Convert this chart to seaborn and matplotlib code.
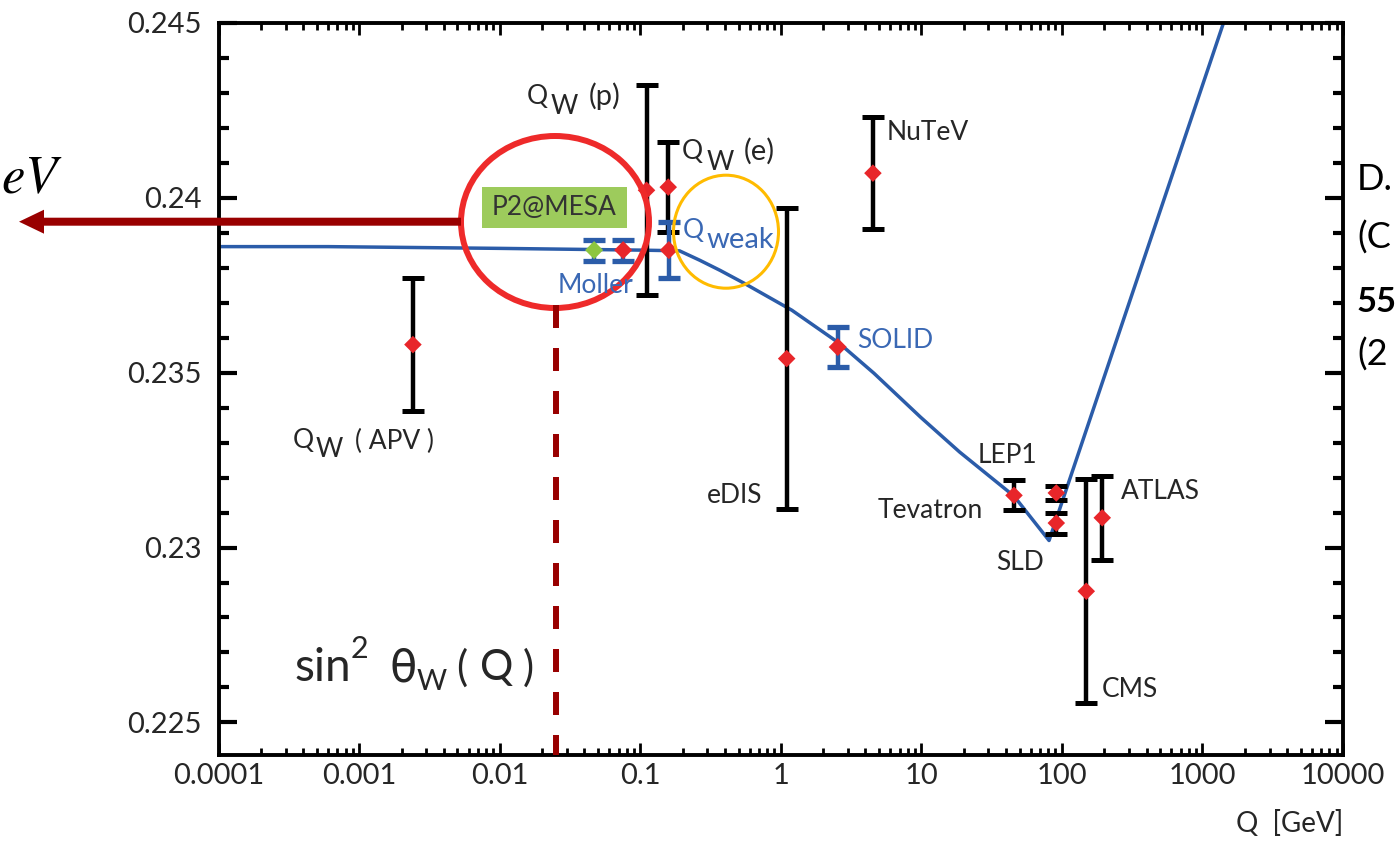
import numpy as np
import pandas as pd
import matplotlib
matplotlib.use("Agg")
import matplotlib.pyplot as plt
import seaborn as sns
from matplotlib.patches import Ellipse, Rectangle, FancyArrow
from matplotlib.lines import Line2D
from matplotlib.transforms import Affine2D
from matplotlib.ticker import FixedLocator, FixedFormatter, MultipleLocator, LogLocator, NullFormatter

# ---------------- data ----------------
# running weak mixing angle (theory curve)
curve_Q = [1e-4, 6e-4, 0.01, 0.1, 0.19, 0.265, 0.37, 0.55, 1.2, 2.6, 4.6, 9.9, 18.7, 45.6, 81, 1413]
curve_s2w = [0.2386, 0.2386, 0.23855, 0.2385, 0.23848, 0.23821, 0.23792, 0.23755, 0.23678,
             0.23584, 0.23498, 0.23372, 0.23273, 0.23147, 0.2302, 0.245]

# existing measurements (black)
exp_names = ["QW(APV)", "QW(p)", "QW(e)", "eDIS", "NuTeV", "LEP1", "Tevatron", "SLD", "CMS", "ATLAS"]
exp_Q = [0.00241, 0.1107, 0.158, 1.10, 4.52, 45.6, 91.2, 91.2, 149, 193.6]
exp_s2w = [0.2358, 0.24021, 0.2403, 0.2354, 0.2407, 0.23149, 0.23156, 0.2307, 0.22875, 0.23085]
exp_err = [0.0019, 0.0030, 0.00128, 0.0043, 0.0016, 0.00043, 0.00021, 0.0003, 0.0032, 0.0012]

# future measurements (blue)
fut_names = ["P2@MESA", "Moller", "Qweak", "SOLID"]
fut_Q = [0.0469, 0.0755, 0.1596, 2.54]
fut_s2w = [0.2385, 0.2385, 0.2385, 0.23573]
fut_err = [0.0003, 0.0003, 0.00079, 0.00057]

x_ticks = [1e-4, 1e-3, 1e-2, 1e-1, 1, 10, 100, 1000, 10000]
x_labels = ["0.0001", "0.001", "0.01", "0.1", "1", "10", "100", "1000", "10000"]
y_ticks = [0.225, 0.23, 0.235, 0.24, 0.245]
y_labels = ["0.225", "0.23", "0.235", "0.24", "0.245"]

# ---------------- style ----------------
W, H = 1397, 842
sns.set_theme(style="white")
plt.rcParams['font.family'] = ['Lato', 'DejaVu Sans']
plt.rcParams['axes.edgecolor'] = 'black'

BLUE = '#2b5ca9'
BLUE_TXT = '#3a68b4'
RED = '#e8262a'
GREEN = '#8dc63f'
DARK = '#262626'
DRED = '#990000'

fig = plt.figure(figsize=(W / 100, H / 100), dpi=100)
ax = fig.add_axes([218.7 / W, 1 - 755 / H, (1343 - 218.7) / W, (755 - 22.7) / H])
ax.set_xscale('log')

# theory curve
sns.lineplot(x=curve_Q, y=curve_s2w, ax=ax, color=BLUE, lw=2.5, estimator=None, sort=False, zorder=2)

# existing data
ax.errorbar(exp_Q, exp_s2w, yerr=exp_err, fmt='none', ecolor='black', elinewidth=3.2,
            capsize=8, capthick=3.6, zorder=3)
sns.scatterplot(x=exp_Q, y=exp_s2w, ax=ax, marker='D', color=RED, s=80, edgecolor='none', zorder=5)

# future data
ax.errorbar(fut_Q, fut_s2w, yerr=fut_err, fmt='none', ecolor=BLUE, elinewidth=3.2,
            capsize=8, capthick=3.8, zorder=4)
fut_df = pd.DataFrame({"Q": fut_Q, "s2w": fut_s2w, "name": fut_names})
sns.scatterplot(data=fut_df, x="Q", y="s2w", hue="name", ax=ax, marker='D', s=85, edgecolor='none',
                palette={"P2@MESA": GREEN, "Moller": RED, "Qweak": RED, "SOLID": RED},
                legend=False, zorder=6)

ax.set_xlim(1e-4, 1e4)
ax.set_ylim(0.22407, 0.245)
ax.set_xlabel("")
ax.set_ylabel("")

ax.xaxis.set_major_locator(FixedLocator(x_ticks))
ax.xaxis.set_major_formatter(FixedFormatter(x_labels))
ax.xaxis.set_minor_locator(LogLocator(base=10, subs=np.arange(2, 10), numticks=100))
ax.xaxis.set_minor_formatter(NullFormatter())
ax.yaxis.set_major_locator(FixedLocator(y_ticks))
ax.yaxis.set_major_formatter(FixedFormatter(y_labels))
ax.yaxis.set_minor_locator(MultipleLocator(0.001))

ax.tick_params(axis='x', which='major', direction='in', length=8.5, width=2.0, top=True, bottom=True,
               labelsize=21, pad=6, labelcolor=DARK, color='black')
ax.tick_params(axis='x', which='minor', direction='in', length=5, width=2.0, top=True, bottom=True, color='black')
ax.tick_params(axis='y', which='major', direction='in', length=13, width=3.0, left=True, right=True,
               labelsize=21, pad=12.5, labelcolor=DARK, color='black')
ax.tick_params(axis='y', which='minor', direction='in', length=7, width=3.0, left=True, right=True, color='black')
for s in ax.spines.values():
    s.set_visible(True)
    s.set_linewidth(2.8)
    s.set_color('black')

# ---------------- annotations (pixel coordinates, origin top-left) ----------------
T = Affine2D().scale(1 / W, -1 / H).translate(0, 1) + fig.transFigure


def label(x, y, s, size=19, color=DARK, **kw):
    fig.text(x, y, s, transform=T, fontsize=size, color=color, va='baseline', **kw)


def qw_label(x, y, wx, wy, rest, rx, rsize=21, color=DARK):
    label(x, y, "Q", size=19, color=color)
    label(wx, wy, "W", size=19, color=color)
    label(rx, y + 1, rest, size=rsize, color=color)


qw_label(527, 104, 551, 114, "(p)", 589)
qw_label(682, 159, 707, 170, "(e)", 744)
qw_label(293, 448, 316, 457, "( APV )", 355, rsize=19)
label(887, 140, "NuTeV")
label(683, 238, "Q", color=BLUE_TXT)
label(707, 248, "weak", size=21, color=BLUE_TXT)
label(558, 293, "Moller", color=BLUE_TXT)
label(857, 348, "SOLID", color=BLUE_TXT)
label(707, 503, "eDIS")
label(978, 463, "LEP1")
label(878, 518, "Tevatron")
label(996, 570, "SLD")
label(1121, 499, "ATLAS")
label(1102, 697, "CMS")
label(1343, 832, "Q  [GeV]", size=20, ha='right')

# sin^2 theta_W (Q)
label(294, 681, "sin", size=33)
label(351, 658, "2", size=22)
label(390, 682, "θ", size=32, family=['DejaVu Sans'])
label(417, 690, "W", size=21)
label(456, 681, "(", size=30)
label(480, 680, "Q", size=30)
label(523, 681, ")", size=30)

# P2@MESA box
fig.add_artist(Rectangle((481.7, 186.7), 145.6, 41.6, transform=T, facecolor='#9dcb5c', edgecolor='none'))
fig.text(554.5, 208, "P2@MESA", transform=T, fontsize=19, color='#333333', ha='center', va='center')

# circles
fig.add_artist(Ellipse((555, 222), 188, 172, transform=T, fill=False, edgecolor='#ee2a2a', lw=4.3))
fig.add_artist(Ellipse((726, 231.7), 105, 113, transform=T, fill=False, edgecolor='#ffbb00', lw=2.2))

# arrow and dashed line
fig.add_artist(FancyArrow(461, 221.7, -(461 - 19), 0, width=8, head_width=24, head_length=25,
                          length_includes_head=True, transform=T, color=DRED, lw=0))
fig.add_artist(Line2D([556.3, 556.3], [305, 755], transform=T, color=DRED, lw=4.3,
                      linestyle=(0, (3.85, 3.35))))

# texts at the figure edges (cropped in the original)
fig.text(63, 193, r"$eV$", transform=T, fontsize=38, color='black', ha='right', va='baseline',
         math_fontfamily='stix')
for yy, s, wgt, sz in [(179, "D.", 'normal', 26), (238, "(C", 'normal', 26), (302, "55", 'bold', 25),
                       (355, "(2", 'normal', 26)]:
    fig.text(1357, yy, s, transform=T, fontsize=sz, color='black', ha='left', va='center', fontweight=wgt)

fig.savefig("out.png", dpi=100)
